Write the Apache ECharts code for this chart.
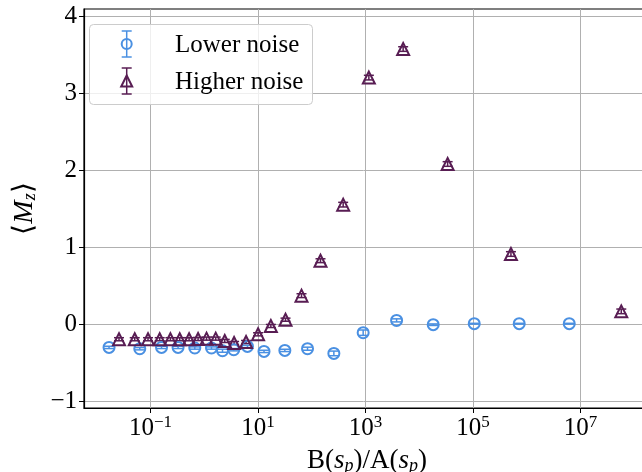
<!DOCTYPE html>
<html><head><meta charset="utf-8">
<script src="https://cdn.jsdelivr.net/npm/echarts@6/dist/echarts.min.js"></script>
<style>html,body{margin:0;padding:0;background:#fff}#c{width:642px;height:472px}</style>
</head><body><div id="c"></div>
<script>
// ---- data ----
const seriesNames = ['Lower noise', 'Higher noise'];
const lowerX = [0.0169, 0.0630, 0.160, 0.325, 0.665, 1.36, 2.18, 3.53, 6.35, 12.9, 31.5, 83.2, 257, 902, 3776, 18110, 105000, 721000, 6150000];
const lowerY = [-0.304, -0.321, -0.304, -0.304, -0.312, -0.312, -0.347, -0.334, -0.291, -0.356, -0.343, -0.321, -0.382, -0.113, 0.047, -0.009, 0.004, 0.004, 0.004];
const lowerErr = [0.015, 0.015, 0.015, 0.015, 0.015, 0.015, 0.02, 0.015, 0.015, 0.015, 0.015, 0.02, 0.03, 0.035, 0.02, 0.01, 0.005, 0.005, 0.005];
const higherX = [0.0259, 0.0508, 0.0897, 0.148, 0.234, 0.349, 0.521, 0.766, 1.10, 1.63, 2.40, 3.58, 5.98, 10.0, 17.3, 32.4, 64.3, 145, 383, 1151, 5000, 33600, 506000, 57100000];
const higherY = [-0.198, -0.198, -0.198, -0.198, -0.198, -0.198, -0.198, -0.195, -0.190, -0.190, -0.220, -0.247, -0.234, -0.134, -0.026, 0.056, 0.368, 0.822, 1.55, 3.2, 3.571, 2.078, 0.909, 0.164];
const higherErr = [0.02, 0.02, 0.02, 0.02, 0.02, 0.02, 0.02, 0.02, 0.02, 0.02, 0.02, 0.02, 0.02, 0.02, 0.02, 0.02, 0.025, 0.025, 0.03, 0.03, 0.03, 0.03, 0.03, 0.03];
const xTickValues = [0.1, 10, 1e3, 1e5, 1e7];
const yTickValues = [-1, 0, 1, 2, 3, 4];

// ---- style ----
const BLUE = '#4a90e2', PURPLE = '#581d53';
const FONT = 'Liberation Serif';
const FS = 25;

function triples(xs, ys, es) { return xs.map((x, i) => [x, ys[i], es[i]]); }
function pairs(xs, ys) { return xs.map((x, i) => [x, ys[i]]); }
function errRender(color) {
  return function (params, api) {
    const x = api.value(0), y = api.value(1), e = api.value(2);
    const t = api.coord([x, y + e]), b = api.coord([x, y - e]);
    const hw = 5, st = { stroke: color, lineWidth: 1.5 };
    return { type: 'group', children: [
      { type: 'line', shape: { x1: t[0], y1: t[1], x2: b[0], y2: b[1] }, style: st },
      { type: 'line', shape: { x1: t[0] - hw, y1: t[1], x2: t[0] + hw, y2: t[1] }, style: st },
      { type: 'line', shape: { x1: b[0] - hw, y1: b[1], x2: b[0] + hw, y2: b[1] }, style: st }
    ]};
  };
}

// legend drawn as graphic (errorbar-style icons)
function legendItems() {
  const els = [];
  els.push({ type: 'rect', shape: { x: 89.5, y: 24.5, width: 223, height: 80, r: 4 },
    style: { fill: 'rgba(255,255,255,0.8)', stroke: '#cccccc', lineWidth: 1 } });
  const entries = [
    { cy: 44, color: BLUE, shape: 'circle', name: seriesNames[0] },
    { cy: 81, color: PURPLE, shape: 'triangle', name: seriesNames[1] }
  ];
  const cx = 126.7;
  entries.forEach(en => {
    const st = { stroke: en.color, lineWidth: 1.5 };
    els.push({ type: 'line', shape: { x1: cx, y1: en.cy - 13, x2: cx, y2: en.cy + 13 }, style: st });
    els.push({ type: 'line', shape: { x1: cx - 5, y1: en.cy - 13, x2: cx + 5, y2: en.cy - 13 }, style: st });
    els.push({ type: 'line', shape: { x1: cx - 5, y1: en.cy + 13, x2: cx + 5, y2: en.cy + 13 }, style: st });
    if (en.shape === 'circle') {
      els.push({ type: 'circle', shape: { cx: cx, cy: en.cy, r: 5 }, style: { fill: 'rgba(0,0,0,0)', stroke: en.color, lineWidth: 2 } });
    } else {
      els.push({ type: 'polygon', shape: { points: [[cx, en.cy - 5.5], [cx - 5.5, en.cy + 5.5], [cx + 5.5, en.cy + 5.5]] },
        style: { fill: 'rgba(0,0,0,0)', stroke: en.color, lineWidth: 2 } });
    }
    els.push({ type: 'text', x: 175, y: en.cy + 1, style: { text: en.name, fontFamily: FONT, fontSize: FS, fill: '#000', verticalAlign: 'middle' } });
  });
  els.forEach(e => { e.z = 100; });
  return els;
}

const chart = echarts.init(document.getElementById('c'), null, { renderer: 'canvas' });
chart.setOption({
  animation: false,
  backgroundColor: '#fff',
  grid: { left: 84, top: 9, right: -8, bottom: 64, show: true, borderColor: '#000', borderWidth: 1.2, containLabel: false, outerBoundsMode: 'none' },
  xAxis: {
    type: 'log', logBase: 10,
    min: Math.pow(10, -2.238), max: Math.pow(10, 8.291),
    axisLine: { show: true, onZero: false, lineStyle: { color: '#000', width: 1.2 } },
    axisTick: { show: true, customValues: xTickValues, length: 5, lineStyle: { color: '#000', width: 1 } },
    minorTick: { show: false },
    splitLine: { show: true, lineStyle: { color: '#b0b0b0', width: 1 } },
    axisLabel: {
      customValues: xTickValues, margin: 6, color: '#000', fontFamily: FONT, fontSize: FS,
      formatter: v => { const p = Math.round(Math.log10(v)); return '10{sup|' + (p < 0 ? '\u2212' + (-p) : p) + '}'; },
      rich: { sup: { fontFamily: FONT, fontSize: 17, color: '#000', padding: [0, 0, 12, 0] } }
    },
    name: 'B({it|s}{sub|p})/A({it|s}{sub|p})',
    nameLocation: 'middle', nameGap: 38,
    nameTextStyle: { color: '#000', fontFamily: FONT, fontSize: 27,
      rich: { it: { fontFamily: FONT, fontSize: 27, fontStyle: 'italic', color: '#000' },
              sub: { fontFamily: FONT, fontSize: 18, fontStyle: 'italic', color: '#000', padding: [11, 0, 0, 0] } } }
  },
  yAxis: {
    type: 'value', min: -1.091, max: 4.091,
    axisLine: { show: true, onZero: false, lineStyle: { color: '#000', width: 1.2 } },
    axisTick: { show: true, customValues: yTickValues, length: 5, lineStyle: { color: '#000', width: 1 } },
    splitLine: { show: true, lineStyle: { color: '#b0b0b0', width: 1 } },
    axisLabel: {
      customValues: yTickValues, margin: 7, color: '#000', fontFamily: FONT, fontSize: FS,
      formatter: v => (v < 0 ? '\u2212' + Math.abs(v) : String(v))
    },
    name: '\u27E8{it|M}{sub|z}\u27E9',
    nameLocation: 'middle', nameRotate: 90, nameGap: 43,
    nameTextStyle: { color: '#000', fontFamily: FONT, fontSize: 28,
      rich: { it: { fontFamily: FONT, fontSize: 28, fontStyle: 'italic', color: '#000' },
              sub: { fontFamily: FONT, fontSize: 18, fontStyle: 'italic', color: '#000', padding: [11, 0, 0, 0] } } }
  },
  graphic: legendItems(),
  series: [
    { name: seriesNames[0] + ' err', type: 'custom', renderItem: errRender(BLUE), data: triples(lowerX, lowerY, lowerErr), encode: { x: 0, y: 1 }, z: 3 },
    { name: seriesNames[1] + ' err', type: 'custom', renderItem: errRender(PURPLE), data: triples(higherX, higherY, higherErr), encode: { x: 0, y: 1 }, z: 3 },
    { name: seriesNames[0], type: 'scatter', data: pairs(lowerX, lowerY), symbol: 'circle', symbolSize: 11,
      itemStyle: { color: 'rgba(0,0,0,0)', borderColor: BLUE, borderWidth: 2, opacity: 1 }, z: 4 },
    { name: seriesNames[1], type: 'scatter', data: pairs(higherX, higherY), symbol: 'triangle', symbolSize: 12,
      itemStyle: { color: 'rgba(0,0,0,0)', borderColor: PURPLE, borderWidth: 2, opacity: 1 }, z: 4 }
  ]
});
</script>
</body></html>
